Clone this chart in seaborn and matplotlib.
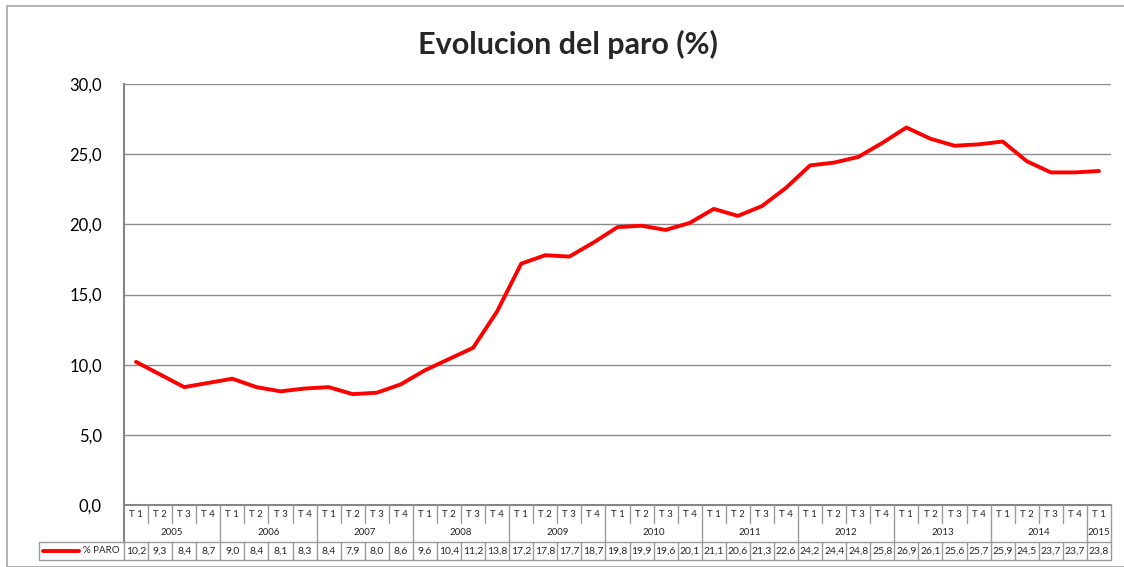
import numpy as np
import pandas as pd
import matplotlib
matplotlib.use("Agg")
import matplotlib.pyplot as plt
import seaborn as sns
from matplotlib.patches import Rectangle
from matplotlib.lines import Line2D

# data
years = ["2005", "2006", "2007", "2008", "2009", "2010", "2011", "2012", "2013", "2014", "2015"]
quarters = ["T 1", "T 2", "T 3", "T 4"] * 10 + ["T 1"]
paro = [10.2, 9.3, 8.4, 8.7,
        9.0, 8.4, 8.1, 8.3,
        8.4, 7.9, 8.0, 8.6,
        9.6, 10.4, 11.2, 13.8,
        17.2, 17.8, 17.7, 18.7,
        19.8, 19.9, 19.6, 20.1,
        21.1, 20.6, 21.3, 22.6,
        24.2, 24.4, 24.8, 25.8,
        26.9, 26.1, 25.6, 25.7,
        25.9, 24.5, 23.7, 23.7,
        23.8]
yticks = [0, 5, 10, 15, 20, 25, 30]

df = pd.DataFrame({"idx": np.arange(len(paro)), "paro": paro})
n = len(paro)

sns.set_style("white")
plt.rcParams['font.family'] = ['Lato', 'DejaVu Sans']

W, H = 1124, 567
fig = plt.figure(figsize=(W / 100, H / 100), dpi=100)

# outer chart border
fig.patches.append(Rectangle((7 / W, 0), 1.2, 1 - 6 / H, transform=fig.transFigure,
                             fill=False, edgecolor="#a6a6a6", linewidth=1.2))

ax = fig.add_axes([124 / W, (H - 505) / H, 987 / W, 421 / H])
sns.lineplot(data=df, x="idx", y="paro", ax=ax, color="#ff0000", linewidth=2.8)
ax.set_xlim(-0.5, n - 0.5)
ax.set_ylim(0, 30)
ax.set_yticks(yticks)
ax.set_yticklabels([f"{v:.1f}".replace(".", ",") for v in yticks], fontsize=12)
ax.set_xticks([])
ax.set_xlabel("")
ax.set_ylabel("")
ax.tick_params(axis="y", length=0, pad=16, labelcolor="black")
ax.yaxis.grid(True, color="#8c8c8c", linewidth=1)
ax.set_axisbelow(True)
for s in ["top", "right", "bottom"]:
    ax.spines[s].set_visible(False)
ax.spines["left"].set_color("#868686")
ax.spines["left"].set_linewidth(1.5)

fig.text(568 / W, 1 - 44 / H, "Evolucion del paro (%)", ha="center", va="center",
         fontsize=22, fontweight="bold")

# data table below the axis
tab = fig.add_axes([124 / W, (H - 560) / H, 987 / W, 55 / H])
tab.set_xlim(-0.5, n - 0.5)
tab.set_ylim(3, 0)
tab.axis("off")
lc = "#9a9a9a"

def vline(x, y0, y1, **kw):
    tab.add_line(Line2D([x, x], [y0, y1], color=kw.get("color", lc),
                        linewidth=kw.get("lw", 1), clip_on=False))

def hline(y, x0, x1, **kw):
    tab.add_line(Line2D([x0, x1], [y, y], color=kw.get("color", lc),
                        linewidth=kw.get("lw", 1), clip_on=False))

hline(0, -0.5, n - 0.5, color="#868686", lw=1.5)
for i in range(n + 1):
    x = i - 0.5
    if i % 4 == 0 or i == n:
        vline(x, 0, 2, color="#868686" if i == 0 else lc, lw=1.5 if i == 0 else 1)
    else:
        vline(x, 0, 1)
    vline(x, 2, 3)

for i, q in enumerate(quarters):
    tab.text(i, 0.5, q, ha="center", va="center", fontsize=7)
    tab.text(i, 2.5, f"{paro[i]:.1f}".replace(".", ","), ha="center", va="center", fontsize=7.5)

for k, yr in enumerate(years):
    start = k * 4
    end = min(start + 4, n)
    tab.text((start + end - 1) / 2, 1.5, yr, ha="center", va="center", fontsize=7)

cell = 987 / n
leg_x0 = -0.5 - 85 / cell
hline(2, leg_x0, n - 0.5)
hline(3, leg_x0, n - 0.5)
vline(leg_x0, 2, 3)
tab.add_line(Line2D([leg_x0 + 4 / cell, leg_x0 + 40 / cell], [2.5, 2.5], color="#ff0000",
                    linewidth=2.8, clip_on=False))
tab.text(-0.5 - 4 / cell, 2.5, "% PARO", ha="right", va="center", fontsize=7)

fig.savefig("out.png", dpi=100)
